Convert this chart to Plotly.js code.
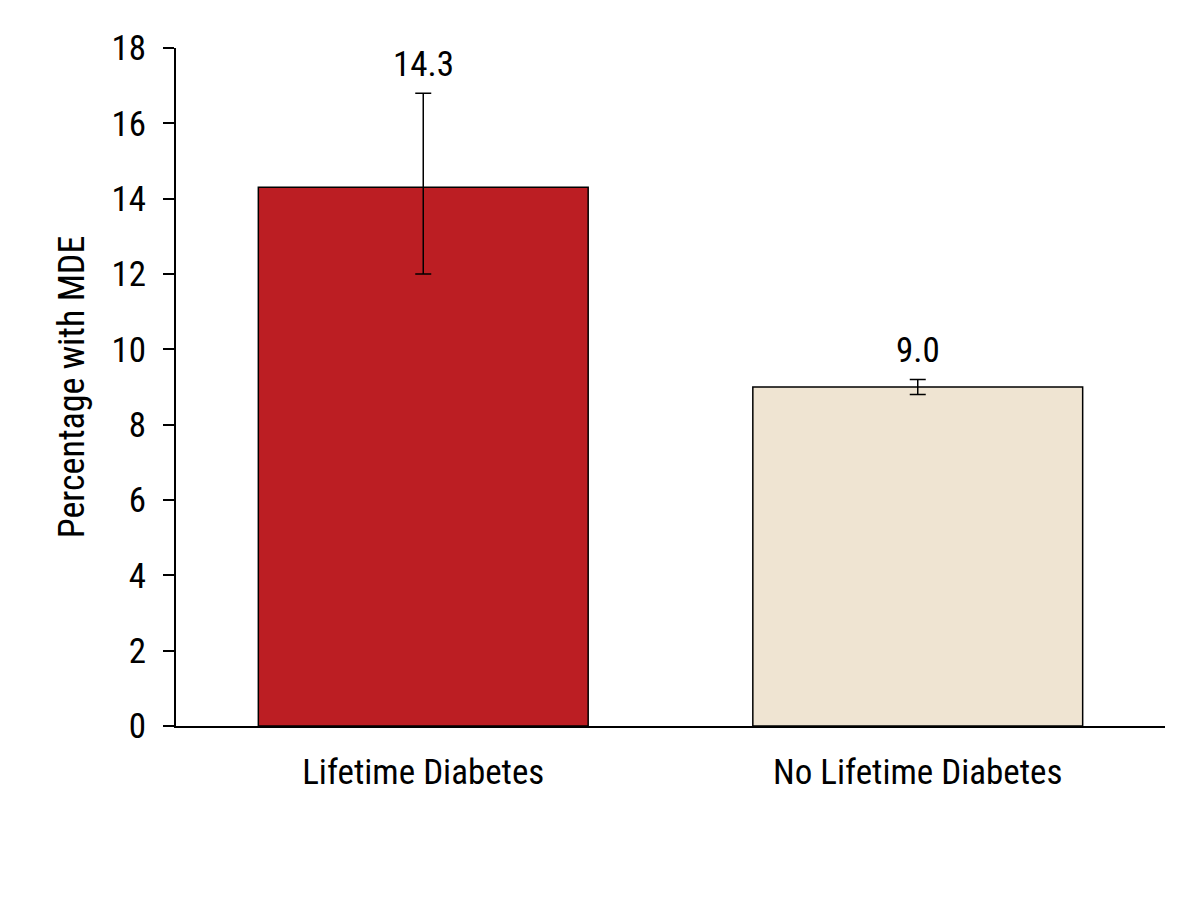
<!DOCTYPE html>
<html>
<head>
<meta charset="utf-8">
<script src="https://cdn.plot.ly/plotly-3.0.1.min.js"></script>
<style>
  body { margin: 0; background: #fff; }
  #plot { width: 1200px; height: 900px; }
</style>
</head>
<body>
<div id="plot"></div>
<script>
var groups = ['Lifetime Diabetes', 'No Lifetime Diabetes'];
var pct = [14.3, 9.0];
var ciLow = [12.0, 8.8];
var ciHigh = [16.8, 9.2];
var barColors = ['#BC1E23', '#EFE4D2'];
var labels = ['14.3', '9.0'];

var fontFam = '"Liberation Sans Narrow", "Roboto Condensed", Roboto, sans-serif';

var trace = {
  type: 'bar',
  x: groups,
  y: pct,
  marker: { color: barColors, line: { color: '#000', width: 1.5 } },
  error_y: {
    type: 'data',
    symmetric: false,
    array: pct.map(function (v, i) { return ciHigh[i] - v; }),
    arrayminus: pct.map(function (v, i) { return v - ciLow[i]; }),
    color: '#000',
    thickness: 1.5,
    width: 8
  },
  hoverinfo: 'none'
};

var notes = groups.map(function (g, i) {
  return {
    x: g, y: ciHigh[i], text: labels[i],
    showarrow: false, yanchor: 'bottom', yshift: 6,
    font: { family: fontFam, size: 35, color: '#000' }
  };
});

var layout = {
  width: 1200,
  height: 900,
  margin: { l: 176, r: 35, t: 48, b: 174 },
  paper_bgcolor: '#fff',
  plot_bgcolor: '#fff',
  showlegend: false,
  bargap: 0.333,
  font: { family: fontFam, size: 35, color: '#000' },
  annotations: notes,
  xaxis: {
    type: 'category',
    showline: true, linecolor: '#000', linewidth: 2,
    ticks: '', showgrid: false, zeroline: false,
    tickfont: { family: fontFam, size: 35, color: '#000' },
    ticklabelstandoff: 14
  },
  yaxis: {
    range: [0, 18],
    dtick: 2,
    showline: true, linecolor: '#000', linewidth: 2,
    ticks: 'outside', ticklen: 11, tickwidth: 2, tickcolor: '#000',
    showgrid: false, zeroline: false,
    tickfont: { family: fontFam, size: 35, color: '#000' },
    ticklabelstandoff: 10,
    title: { text: 'Percentage with MDE', font: { family: fontFam, size: 36, color: '#000' }, standoff: 16 }
  }
};

Plotly.newPlot('plot', [trace], layout, { displayModeBar: false, staticPlot: true });
</script>
</body>
</html>
